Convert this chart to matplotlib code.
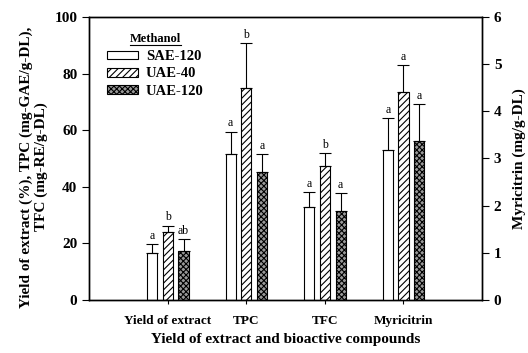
import numpy as np
import matplotlib.pyplot as plt
from matplotlib.patches import Patch
from matplotlib.lines import Line2D

plt.rcParams['font.family'] = ['Liberation Serif', 'DejaVu Serif']
plt.rcParams['font.weight'] = 'bold'
plt.rcParams['axes.labelweight'] = 'bold'
plt.rcParams['hatch.linewidth'] = 0.8

# 데이터 (왼쪽 축: Yield, TPC, TFC / 오른쪽 축: Myricitrin)
categories = ['Yield of extract', 'TPC', 'TFC', 'Myricitrin']
series = ['SAE-120', 'UAE-40', 'UAE-120']
left_vals = {
    'SAE-120': [16.6, 51.6, 32.7],
    'UAE-40': [24.0, 74.8, 47.3],
    'UAE-120': [17.4, 45.3, 31.6],
}
left_err = {
    'SAE-120': [3.2, 7.9, 5.4],
    'UAE-40': [2.3, 15.9, 4.5],
    'UAE-120': [4.1, 6.3, 6.1],
}
myr_vals = {'SAE-120': 3.19, 'UAE-40': 4.41, 'UAE-120': 3.37}
myr_err = {'SAE-120': 0.66, 'UAE-40': 0.57, 'UAE-120': 0.78}
letters = {
    'SAE-120': ['a', 'a', 'a', 'a'],
    'UAE-40': ['b', 'b', 'b', 'a'],
    'UAE-120': ['ab', 'a', 'a', 'a'],
}

styles = {
    'SAE-120': dict(facecolor='white', hatch=None),
    'UAE-40': dict(facecolor='white', hatch='/////'),
    'UAE-120': dict(facecolor='#9a9a9a', hatch='xxxxxx'),
}

fig = plt.figure(figsize=(5.28, 3.53), dpi=100)
ax = fig.add_axes([0.169, 0.150, 0.744, 0.802])
ax2 = ax.twinx()

x = np.arange(1, 5)
width = 0.13
offsets = [-0.2, 0.0, 0.2]

for s, off in zip(series, offsets):
    st = styles[s]
    # 왼쪽 축 막대
    ax.bar(x[:3] + off, left_vals[s], width, facecolor=st['facecolor'],
           hatch=st['hatch'], edgecolor='black', linewidth=0.8, zorder=2)
    ax.errorbar(x[:3] + off, left_vals[s], yerr=[np.zeros(3), left_err[s]],
                fmt='none', ecolor='black', elinewidth=0.8, capsize=4, capthick=0.8, zorder=3)
    for xi, v, e, lt in zip(x[:3] + off, left_vals[s], left_err[s], letters[s][:3]):
        ax.text(xi, v + e + 0.8, lt, ha='center', va='bottom', fontsize=8.5, fontweight='normal')
    # 오른쪽 축 막대
    ax2.bar(x[3] + off, myr_vals[s], width, facecolor=st['facecolor'],
            hatch=st['hatch'], edgecolor='black', linewidth=0.8, zorder=2)
    ax2.errorbar(x[3] + off, myr_vals[s], yerr=[[0], [myr_err[s]]],
                 fmt='none', ecolor='black', elinewidth=0.8, capsize=4, capthick=0.8, zorder=3)
    ax2.text(x[3] + off, myr_vals[s] + myr_err[s] + 0.05, letters[s][3],
             ha='center', va='bottom', fontsize=8.5, fontweight='normal')

ax.set_xlim(0, 5)
ax.set_ylim(0, 100)
ax2.set_ylim(0, 6)
ax.set_xticks(x)
ax.set_xticklabels(categories, fontsize=9.5)
ax.tick_params(axis='x', length=3, direction='out', pad=8)
ax.set_yticks(np.arange(0, 101, 20))
ax.tick_params(axis='y', labelsize=11, length=5, direction='out')
ax2.set_yticks(np.arange(0, 7, 1))
ax2.tick_params(axis='y', labelsize=11, length=5, direction='out')
for a in (ax, ax2):
    for sp in a.spines.values():
        sp.set_linewidth(1.0)

ax.set_ylabel('Yield of extract (%), TPC (mg-GAE/g-DL),\nTFC (mg-RE/g-DL)',
              fontsize=11, linespacing=1.15)
ax.yaxis.set_label_coords(-0.104, 0.47)
ax2.set_ylabel('Myricitrin (mg/g-DL)', fontsize=11, labelpad=8)
ax.set_xlabel('Yield of extract and bioactive compounds', fontsize=11, labelpad=4)

handles = [Patch(facecolor=styles[s]['facecolor'], hatch=styles[s]['hatch'],
                 edgecolor='black', linewidth=0.8, label=s) for s in series]
leg = ax2.legend(handles=handles, title='Methanol', loc='upper left',
                 bbox_to_anchor=(0.046, 0.945), borderaxespad=0, borderpad=0,
                 frameon=False, fontsize=10.5, handlelength=2.1, handleheight=0.55,
                 labelspacing=0.3, handletextpad=0.55)
leg.get_title().set_fontsize(9)
leg.get_title().set_fontweight('bold')
# 제목과 항목 사이 간격
leg._legend_box.sep = 4

# 범례 제목 밑줄
fig.canvas.draw()
bb = leg.get_title().get_window_extent().transformed(fig.transFigure.inverted())
fig.add_artist(Line2D([bb.x0, bb.x1], [bb.y0 - 0.002, bb.y0 - 0.002],
                      color='black', linewidth=0.8, transform=fig.transFigure))

fig.savefig('out.png', dpi=100)
